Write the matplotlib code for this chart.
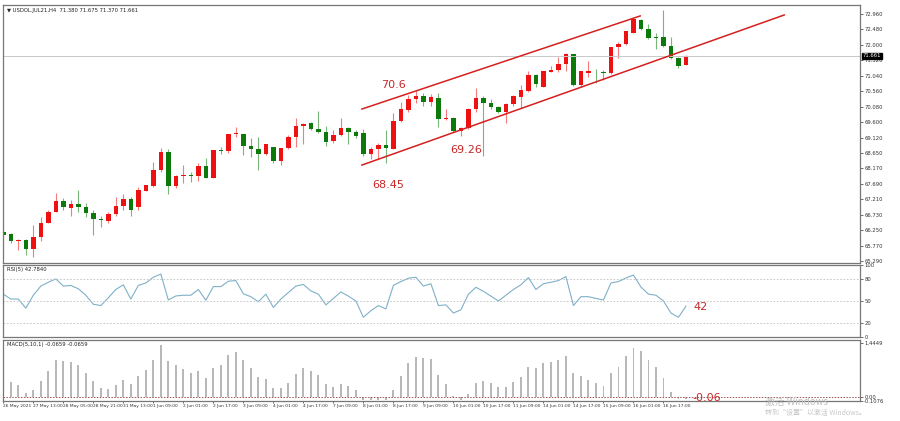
import matplotlib
matplotlib.use("Agg")
import matplotlib.pyplot as plt
import numpy as np

opens = [66.20,66.12,65.92,65.94,65.65,66.05,66.48,66.82,67.16,66.95,67.06,66.98,66.79,66.60,66.54,66.75,67.00,67.21,66.96,67.47,
         67.63,68.12,68.69,67.63,67.94,67.96,67.94,68.24,67.88,68.74,68.72,69.23,69.25,68.86,68.76,68.61,68.82,68.41,68.79,69.13,
         69.48,69.57,69.39,69.30,69.01,69.21,69.43,69.31,69.26,68.61,68.76,68.89,68.77,69.65,69.98,70.31,70.41,70.23,70.36,69.70,
         69.74,69.33,69.42,70.01,70.34,70.19,70.08,69.93,70.17,70.39,70.58,71.07,70.70,71.17,71.22,71.41,71.72,70.76,71.12,71.17,
         71.16,71.12,71.93,72.02,72.38,72.78,72.48,72.24,72.24,71.97,71.61,71.38]
closes = [66.10,65.91,65.94,65.65,66.05,66.48,66.82,67.16,66.96,67.06,66.96,66.79,66.60,66.58,66.75,67.00,67.21,66.87,67.50,67.65,
          68.12,68.67,67.63,67.93,67.96,67.94,68.24,67.88,68.74,68.72,69.23,69.28,68.86,68.76,68.61,68.91,68.41,68.79,69.13,69.48,
          69.54,69.38,69.30,69.00,69.21,69.43,69.30,69.18,68.60,68.76,68.89,68.79,69.65,70.00,70.31,70.41,70.24,70.37,69.69,69.72,
          69.33,69.42,70.01,70.34,70.19,70.06,69.93,70.17,70.41,70.60,71.07,70.79,71.19,71.22,71.41,71.72,70.76,71.19,71.18,71.15,
          71.12,71.93,72.03,72.43,72.80,72.48,72.23,72.20,71.97,71.60,71.35,71.661]
highs = [66.31,66.15,65.99,65.96,66.41,66.65,66.87,67.41,67.24,67.18,67.50,67.08,66.87,66.69,66.82,67.27,67.37,67.27,67.58,67.65,
         68.37,68.79,68.76,67.96,68.27,68.06,68.32,68.48,68.74,68.82,69.23,69.44,69.25,69.10,69.15,68.91,68.82,68.79,69.20,69.72,
         69.57,69.60,69.96,69.48,69.36,69.72,69.46,69.36,69.38,68.84,68.97,69.36,69.88,70.24,70.45,70.60,70.50,70.48,70.50,70.00,
         69.77,69.46,70.03,70.65,70.40,70.33,70.10,70.19,70.45,70.76,71.20,71.10,71.19,71.35,71.64,71.76,71.72,71.20,71.50,71.24,
         71.22,71.93,72.10,72.43,72.83,72.80,72.65,72.36,73.10,72.26,71.64,71.675]
lows = [66.05,65.84,65.63,65.48,65.43,65.92,66.46,66.82,66.89,66.69,66.82,66.67,66.10,66.36,66.48,66.69,66.87,66.69,66.87,67.47,
        67.58,68.06,67.37,67.55,67.70,67.75,67.78,67.86,67.88,68.61,68.65,69.13,68.58,68.51,68.12,68.58,68.34,68.27,68.76,68.84,
        68.92,69.36,69.28,68.86,68.96,69.18,68.94,69.10,68.55,68.45,68.45,68.32,68.77,69.62,69.93,70.19,70.10,70.10,69.44,69.67,
        69.31,69.17,69.40,69.93,68.55,70.00,69.90,69.59,70.10,70.03,70.55,70.68,70.68,71.17,71.17,71.19,70.72,70.68,71.02,70.83,
        70.91,71.10,71.61,72.00,72.36,72.46,72.17,71.86,71.93,71.55,71.27,71.37]
rsi = [59.5,52.7,52.7,40,58,70.7,76,80.7,70.7,71.6,67,58,45.5,43.7,54.5,66,72.5,52.7,71.6,75,
       83,87.4,51.4,57,58,58,66,51,70,70,77.5,78.4,60,56,49,59.5,41,52.7,61.7,70.7,
       73,64,59.5,44.6,53.6,62.6,56.8,50,27.4,36.5,43.7,39,71.6,77,81.6,83,70.7,74,43.7,44.6,
       33.3,37.8,59.5,69,63.5,56.8,50,58,66,72.5,82.5,66,74,76,78.4,83.8,43.7,56,56,53.6,
       51.4,75,77,82,86,69.4,59.5,58,50,33.3,27.4,42.78]
macd = [0.48,0.39,0.30,0.10,0.18,0.42,0.70,0.98,0.97,0.94,0.85,0.65,0.41,0.22,0.20,0.32,0.44,0.33,0.55,0.72,
        1.00,1.39,0.97,0.85,0.74,0.64,0.68,0.50,0.77,0.86,1.13,1.20,0.98,0.77,0.52,0.48,0.22,0.22,0.37,0.62,
        0.77,0.69,0.58,0.33,0.27,0.35,0.29,0.19,-0.10,-0.10,-0.10,-0.10,0.17,0.55,0.90,1.08,1.03,1.01,0.59,0.33,
        0.01,-0.08,0.06,0.36,0.41,0.36,0.25,0.27,0.40,0.53,0.80,0.77,0.91,0.93,0.99,1.11,0.64,0.55,0.46,0.36,
        0.29,0.63,0.81,1.09,1.31,1.23,0.98,0.79,0.50,0.13,-0.066,-0.066]
time_labels = ["26 May 2021","27 May 13:00","28 May 05:00","28 May 21:00","31 May 13:00","1 Jun 09:00","2 Jun 01:00",
               "2 Jun 17:00","3 Jun 09:00","4 Jun 01:00","4 Jun 17:00","7 Jun 09:00","8 Jun 01:00","8 Jun 17:00",
               "9 Jun 09:00","10 Jun 01:00","10 Jun 17:00","11 Jun 09:00","14 Jun 01:00","14 Jun 17:00",
               "15 Jun 09:00","16 Jun 01:00","16 Jun 17:00"]
price_ticks = [72.960,72.480,72.000,71.520,71.040,70.560,70.080,69.600,69.120,68.650,68.170,67.690,67.210,66.730,66.250,65.770,65.290]
upper_channel = ([48.8, 85.9], [70.01, 72.90])
lower_channel = ([48.8, 105.1], [68.27, 72.93])
annotations = [("70.6", 53.0, 70.76), ("69.26", 62.7, 68.74), ("68.45", 52.3, 67.65)]
last_price = 71.661

W, H = 900, 421
fig = plt.figure(figsize=(9, 4.21), dpi=100)
fig.patch.set_facecolor("white")

def ax_at(x0, y0, x1, y1):
    return fig.add_axes([x0 / W, 1 - y1 / H, (x1 - x0) / W, (y1 - y0) / H])

ax = ax_at(3, 5, 860, 263)
axr = ax_at(3, 265, 860, 337)
axm = ax_at(3, 340, 860, 401)
xl = (0.96, 115.2)
n = len(opens)
idx = np.arange(1, n + 1)
UP, DN = "#ee1111", "#0b7a0b"
for i, o, c, h, l in zip(idx, opens, closes, highs, lows):
    col = UP if c >= o else DN
    ax.vlines(i, l, h, color=col, lw=0.8, alpha=0.55)
    lo, hi = min(o, c), max(o, c)
    ax.bar(i, max(hi - lo, 0.02), bottom=lo, width=0.6, color=col, linewidth=0)
ax.axhline(last_price, color="#c8c8c8", lw=0.7)
ax.plot(*upper_channel, color="#d42020", lw=1.1)
ax.plot(*lower_channel, color="#d42020", lw=1.1)
for t, x, y in annotations:
    ax.text(x, y, t, color="#c62828", fontsize=8, ha="center", va="center")
ax.set_xlim(*xl)
ax.set_ylim(65.23, 73.24)
ax.yaxis.tick_right()
ax.set_yticks(price_ticks)
ax.set_yticklabels([f"{v:.3f}" for v in price_ticks])
ax.set_xticks([])
ax.text(0.005, 0.99, "\u25bc USDOL.JUL21,H4  71.380 71.675 71.370 71.661", transform=ax.transAxes,
        fontsize=3.8, va="top", color="#222")
ax.text(1.003, (last_price - 65.23) / (73.24 - 65.23), "71.661", transform=ax.transAxes, fontsize=3.8,
        va="center", ha="left", color="white", bbox=dict(boxstyle="square,pad=0.15", fc="black", ec="black"))

axr.plot(idx, rsi, color="#7fb0c8", lw=0.8)
for v in (80, 50, 20):
    axr.axhline(v, color="#c0c0c0", lw=0.6, ls=(0, (2, 2)))
axr.set_xlim(*xl)
axr.set_ylim(0, 100)
axr.yaxis.tick_right()
axr.set_yticks([100, 80, 50, 20, 0])
axr.set_xticks([])
axr.text(0.005, 0.97, "RSI(5) 42.7840", transform=axr.transAxes, fontsize=3.8, va="top", color="#222")
axr.text(93.9, 42, "42", color="#c62828", fontsize=8, va="center", ha="center")

axm.bar(idx, macd, width=0.25, color="#b8b8b8", linewidth=0)
axm.axhline(0, color="#a05050", lw=0.7, ls=(0, (1.5, 1.5)))
axm.set_xlim(*xl)
axm.set_ylim(-0.12, 1.53)
axm.yaxis.tick_right()
axm.set_yticks([1.4449, 0.0, -0.1076])
axm.set_yticklabels(["1.4449", "0.00", "-0.1076"])
tick_pos = [1 + 4 * k for k in range(len(time_labels))]
axm.set_xticks(tick_pos)
axm.set_xticklabels(time_labels, ha="left")
axm.text(0.005, 0.97, "MACD(5,10,1) -0.0659 -0.0659", transform=axm.transAxes, fontsize=3.8, va="top", color="#222")
axm.text(92.8, -0.05, "-0.06", color="#c62828", fontsize=8, va="center", ha="left")

for a in (ax, axr, axm):
    a.tick_params(axis="both", labelsize=3.8, length=2, width=0.5, colors="#333", pad=1)
    for s in a.spines.values():
        s.set_color("#777")
        s.set_linewidth(0.9)
axm.tick_params(axis="x", labelsize=3.2, length=1.5)

fig.text(765 / W, 1 - 402 / H, "激活 Windows", fontsize=7, color="#c0c0c0", family="Noto Sans CJK SC", va="center")
fig.text(765 / W, 1 - 413 / H, "转到“设置”以激活 Windows。", fontsize=5, color="#c8c8c8", family="Noto Sans CJK SC", va="center")
fig.savefig("out.png", dpi=100)
